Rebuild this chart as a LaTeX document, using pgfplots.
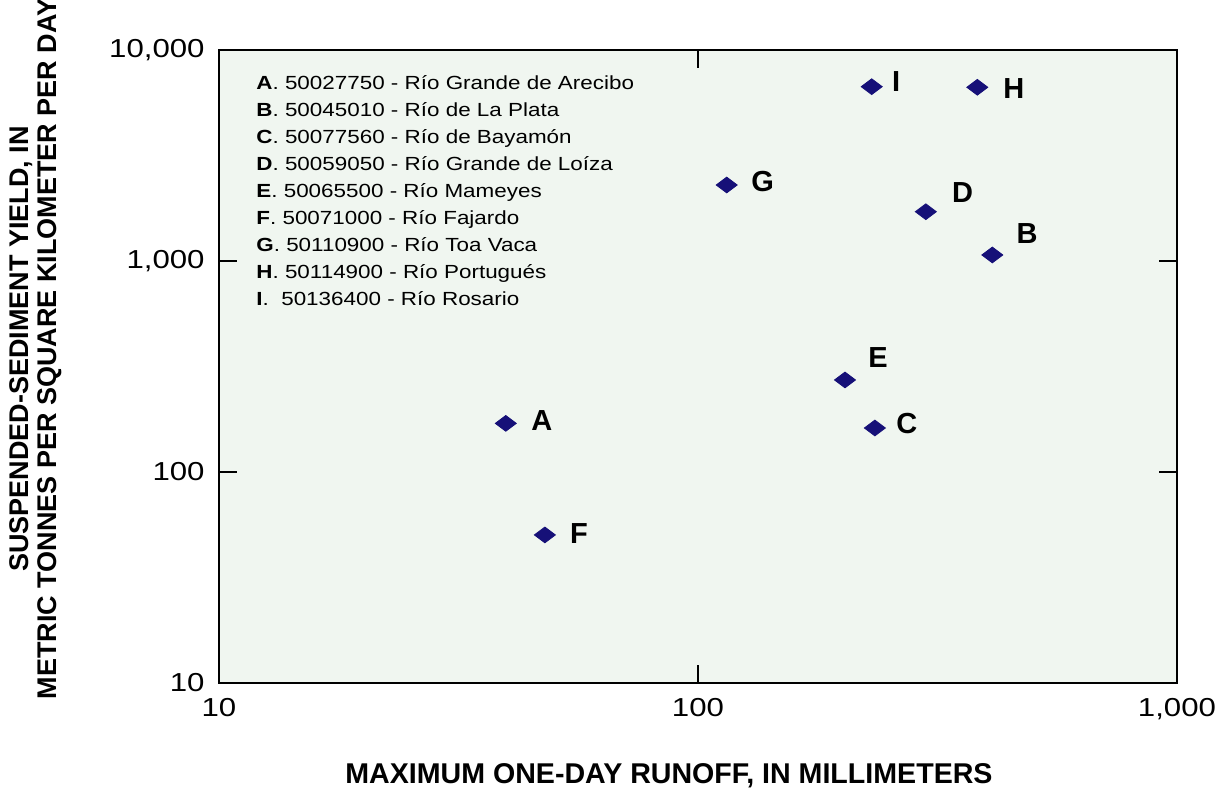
\documentclass[border=0pt]{standalone}
\usepackage{fontspec}
\setmainfont{Liberation Sans}
\newfontfamily\tickfont[FakeStretch=1.2]{Liberation Sans}
\newfontfamily\legfont[FakeStretch=1.18]{Liberation Sans}
\usepackage{pgfplots}
\pgfplotsset{compat=1.18}
\definecolor{bgc}{RGB}{240,246,240}
\definecolor{mk}{RGB}{22,16,120}

\pgfplotstableread{
x y
39.7 170
411.6 1068
234 161.6
299 1712
202.7 273
47.9 50.3
114.8 2291
383 6656
230.5 6700
}\pts

\begin{document}
\begin{tikzpicture}
\useasboundingbox (-109.5pt,-56pt) rectangle (504.5pt,341.5pt);
\begin{axis}[
  at={(0pt,0pt)}, anchor=south west,
  scale only axis, width=479pt, height=316.5pt,
  xmode=log, ymode=log,
  xmin=10, xmax=1000, ymin=10, ymax=10000,
  axis background/.style={fill=bgc},
  axis line style={line width=1pt},
  every tick/.style={line width=1pt, black},
  major tick length=9pt, tick align=inside,
  xminorticks=false, yminorticks=false,
  xtick={10,100,1000}, ytick={10,100,1000,10000},
  xticklabels={10,100,{1,000}},
  yticklabels={10,100,{1,000},{10,000}},
  xticklabel style={font=\tickfont\fontsize{13}{15}\selectfont, anchor=north, inner sep=0pt, yshift=-7.5pt},
  yticklabel style={font=\tickfont\fontsize{13}{15}\selectfont, anchor=east, inner sep=0pt, xshift=-7pt},
  xlabel={MAXIMUM ONE-DAY RUNOFF, IN MILLIMETERS},
  xlabel style={font=\bfseries\fontsize{14.3}{15}\selectfont, at={(axis description cs:0.4697,0)}, anchor=center, yshift=-46.5pt},
  ylabel={SUSPENDED-SEDIMENT YIELD, IN\\METRIC TONNES PER SQUARE KILOMETER PER DAY},
  ylabel style={font=\bfseries\fontsize{13.5}{14}\selectfont, align=center, at={(axis description cs:-0.191,0.5276)}, anchor=center},
  clip=false,
]
\addplot[only marks, mark=diamond*, mark size=5.25pt, mark options={rotate=90, draw=mk, fill=mk}] table[x=x,y=y] {\pts};
\tikzset{lab/.style={font=\bfseries\fontsize{14.5}{15}\selectfont, inner sep=0pt, anchor=center}}
\node[lab, xshift=18pt, yshift=1.3pt] at (axis cs:39.7,170) {A};
\node[lab, xshift=17.4pt, yshift=10.9pt] at (axis cs:411.6,1068) {B};
\node[lab, xshift=16pt, yshift=2pt] at (axis cs:234,161.6) {C};
\node[lab, xshift=18.4pt, yshift=9.5pt] at (axis cs:299,1712) {D};
\node[lab, xshift=16.5pt, yshift=11pt] at (axis cs:202.7,273) {E};
\node[lab, xshift=17pt, yshift=0.5pt] at (axis cs:47.9,50.3) {F};
\node[lab, xshift=18pt, yshift=1.7pt] at (axis cs:114.8,2291) {G};
\node[lab, xshift=18.2pt, yshift=-0.5pt] at (axis cs:383,6656) {H};
\node[lab, xshift=12.2pt, yshift=2.5pt] at (axis cs:230.5,6700) {I};
\end{axis}
\begin{scope}[every node/.style={anchor=base west, inner sep=0pt, font=\legfont\fontsize{9.5}{12}\selectfont}]
\node at (18.5pt,296.5pt) {\textbf{A}. 50027750 - Río Grande de Arecibo};
\node at (18.5pt,283.06pt) {\textbf{B}. 50045010 - Río de La Plata};
\node at (18.5pt,269.62pt) {\textbf{C}. 50077560 - Río de Bayamón};
\node at (18.5pt,256.18pt) {\textbf{D}. 50059050 - Río Grande de Loíza};
\node at (18.5pt,242.74pt) {\textbf{E}. 50065500 - Río Mameyes};
\node at (18.5pt,229.3pt) {\textbf{F}. 50071000 - Río Fajardo};
\node at (18.5pt,215.86pt) {\textbf{G}. 50110900 - Río Toa Vaca};
\node at (18.5pt,202.42pt) {\textbf{H}. 50114900 - Río Portugués};
\node at (18.5pt,188.98pt) {\textbf{I}.\ \ 50136400 - Río Rosario};
\end{scope}
\end{tikzpicture}
\end{document}
